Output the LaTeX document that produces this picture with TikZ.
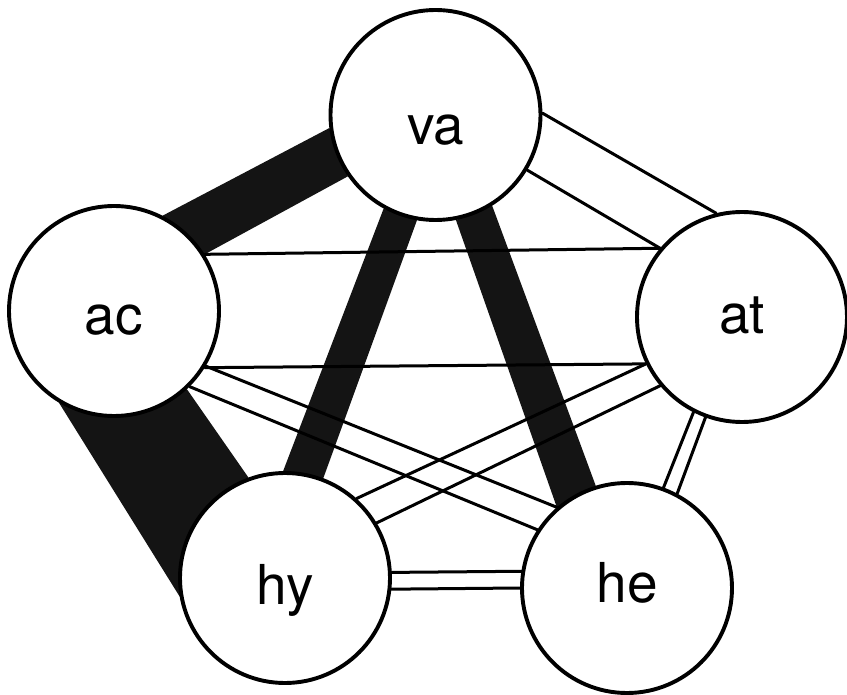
\documentclass[tikz,border=0pt]{standalone}
\usepackage{fontspec}
\setsansfont{TeX Gyre Heros}
\pgfdeclarelayer{links}
\pgfsetlayers{links,main}
\begin{document}
\begin{tikzpicture}[x=1pt,y=-1pt,
  vertex/.style={circle, draw, fill=white, line width=3.9pt,
    minimum size=210pt, inner sep=0pt, text depth=0pt,
    font=\sffamily\fontsize{55}{55}\selectfont},
  band/.style={fill=black!92},
  rail/.style={line width=3pt, line cap=round}]
\useasboundingbox (0,0) rectangle (847,695);

% the five variables
\node[vertex, text height=60pt] (va) at (435.5,115) {va};
\node[vertex, text height=48pt] (ac) at (114,311)   {ac};
\node[vertex, text height=34pt] (at) at (742,317)   {at};
\node[vertex, text height=52pt] (hy) at (285,578)   {hy};
\node[vertex, text height=28pt] (he) at (627,588)   {he};

\begin{pgfonlayer}{links}
  % strong links: solid bands
  \fill[band] (va.187)   -- (va.215)   -- (ac.32.4)  -- (ac.63.4)  -- cycle;
  \fill[band] (va.241)   -- (va.260)   -- (hy.69.6)  -- (hy.91.7)  -- cycle;
  \fill[band] (va.281.4) -- (va.302.6) -- (he.107.6) -- (he.131)   -- cycle;
  \fill[band] (ac.239.6) -- (ac.313)   -- (hy.110.6) -- (hy.190.6) -- cycle;

  % weaker links: open bands
  \draw[rail] (va.1.6)   -- (at.104.6);
  \draw[rail] (va.329)   -- (at.140);
  \draw[rail] (ac.32.8)  -- (at.140);
  \draw[rail] (ac.328)   -- (at.206.3);
  \draw[rail] (ac.329)   -- (he.131);
  \draw[rail] (ac.315.6) -- (he.147.2);
  \draw[rail] (hy.48.1)  -- (at.206.3);
  \draw[rail] (hy.31.9)  -- (at.220.5);
  \draw[rail] (hy.3.3)   -- (he.171.5);
  \draw[rail] (hy.354)   -- (he.180.5);
  \draw[rail] (at.243.7) -- (he.70);
  \draw[rail] (at.250.7) -- (he.62.2);
\end{pgfonlayer}
\end{tikzpicture}
\end{document}
